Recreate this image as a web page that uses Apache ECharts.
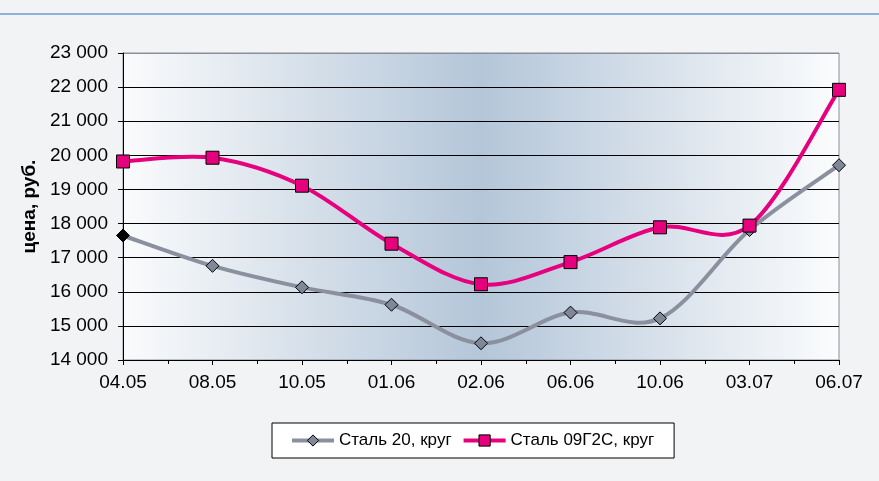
<!DOCTYPE html>
<html><head><meta charset="utf-8">
<script src="https://cdn.jsdelivr.net/npm/echarts@6/dist/echarts.min.js"></script>
<style>html,body{margin:0;padding:0;background:#f2f3f5;}#c{width:879px;height:481px;}</style>
</head><body><div id="c"></div>
<script>
const categories = ['04.05','08.05','10.05','01.06','02.06','06.06','10.06','03.07','06.07'];
const steel20 = [17650, 16760, 16130, 15620, 14490, 15390, 15220, 17810, 19710];
const steel09 = [19820, 19930, 19110, 17410, 16220, 16870, 17890, 17940, 21920];
const seriesNames = ['Сталь 20, круг', 'Сталь 09Г2С, круг'];
const yTicks = [14000, 15000, 16000, 17000, 18000, 19000, 20000, 21000, 22000, 23000];

const GREY = '#8a909e', PINK = '#e6007e', MARK_GREY = '#7f8799';
const FONT = 'Arial, "Liberation Sans", sans-serif';
const fmt = v => String(v).replace(/\B(?=(\d{3})+(?!\d))/g, ' ');

// Excel-like (Catmull-Rom) smoothed path through the points, using the chart's own scales
function smoothRenderer(values, color) {
  return function (params, api) {
    if (params.dataIndex !== 0) return null;
    const pts = values.map((v, i) => api.coord([i, v]));
    let d = 'M' + pts[0][0] + ' ' + pts[0][1];
    for (let i = 0; i < pts.length - 1; i++) {
      const p0 = pts[Math.max(i - 1, 0)], p1 = pts[i], p2 = pts[i + 1], p3 = pts[Math.min(i + 2, pts.length - 1)];
      const c1 = [p1[0] + (p2[0] - p0[0]) / 6, p1[1] + (p2[1] - p0[1]) / 6];
      const c2 = [p2[0] - (p3[0] - p1[0]) / 6, p2[1] - (p3[1] - p1[1]) / 6];
      d += ' C' + c1[0] + ' ' + c1[1] + ' ' + c2[0] + ' ' + c2[1] + ' ' + p2[0] + ' ' + p2[1];
    }
    return {type: 'path', shape: {pathData: d}, style: {fill: 'none', stroke: color, lineWidth: 4, lineCap: 'round', lineJoin: 'round'}, silent: true};
  };
}

const chart = echarts.init(document.getElementById('c'));
chart.setOption({
  backgroundColor: '#f2f3f5',
  animation: false,
  graphic: [{type:'line', shape:{x1:0,y1:14,x2:879,y2:14}, style:{stroke:'#6a9fd0', lineWidth:1.5}}],
  grid: {left:123, right:40, top:53, bottom:121, show:true, borderColor:'#8a8f9a', borderWidth:1,
    backgroundColor: {type:'linear', x:0, y:0, x2:1, y2:0, colorStops:[
      {offset:0, color:'#fafbfc'}, {offset:0.5, color:'#b4c6d9'}, {offset:1, color:'#fbfcfd'}]}},
  xAxis: {type:'value', min:0, max:categories.length-1, interval:1,
    axisLine:{lineStyle:{color:'#000', width:1}},
    axisTick:{show:true, length:5, lineStyle:{color:'#000'}},
    minorTick:{show:true, splitNumber:2, length:4, lineStyle:{color:'#000'}},
    splitLine:{show:false},
    axisLabel:{formatter: v => categories[v] || '', color:'#000', fontSize:19, fontFamily:FONT, margin:13}},
  yAxis: {type:'value', min:yTicks[0], max:yTicks[yTicks.length-1], interval:1000,
    name:'цена, руб.', nameLocation:'middle', nameGap:81, nameRotate:90,
    nameTextStyle:{color:'#000', fontSize:19, fontWeight:'bold', fontFamily:FONT},
    axisLine:{show:true, lineStyle:{color:'#000', width:1}},
    axisTick:{show:true, length:5, lineStyle:{color:'#000'}},
    splitLine:{show:true, lineStyle:{color:['#000','#000','#000','#000','#000','#000','#000','#000','#000','#8a8f9a'], width:1}},
    axisLabel:{formatter: fmt, color:'#000', fontSize:19, fontFamily:FONT, margin:15}},
  legend: {left:272, top:423, padding:[9,20,9,18], itemGap:10,
    backgroundColor:'#fff', borderColor:'#000', borderWidth:1, borderRadius:0,
    itemWidth:42, itemHeight:14,
    textStyle:{color:'#000', fontSize:17, fontFamily:FONT},
    data: [
      {name:seriesNames[0], lineStyle:{color:GREY, width:4, opacity:1}, itemStyle:{color:MARK_GREY, borderColor:'#000', borderWidth:1}},
      {name:seriesNames[1], lineStyle:{color:PINK, width:4, opacity:1}, itemStyle:{color:PINK, borderColor:'#000', borderWidth:1}}
    ]},
  series: [
    {name:'c1', type:'custom', renderItem: smoothRenderer(steel20, GREY), data: steel20.map((v,i)=>[i,v]), z:2, clip:false},
    {name:'c2', type:'custom', renderItem: smoothRenderer(steel09, PINK), data: steel09.map((v,i)=>[i,v]), z:2, clip:false},
    {name:seriesNames[0], type:'line',
     data: steel20.map((v,i) => i===0 ? {value:[i,v], itemStyle:{color:'#000'}} : [i,v]),
     symbol:'diamond', symbolSize:13, z:3,
     lineStyle:{color:GREY, width:4, opacity:0},
     itemStyle:{color:MARK_GREY, borderColor:'#000', borderWidth:1}},
    {name:seriesNames[1], type:'line',
     data: steel09.map((v,i) => [i,v]),
     symbol:'rect', symbolSize:13, z:4,
     lineStyle:{color:PINK, width:4, opacity:0},
     itemStyle:{color:PINK, borderColor:'#000', borderWidth:1}}
  ]
});
</script></body></html>
